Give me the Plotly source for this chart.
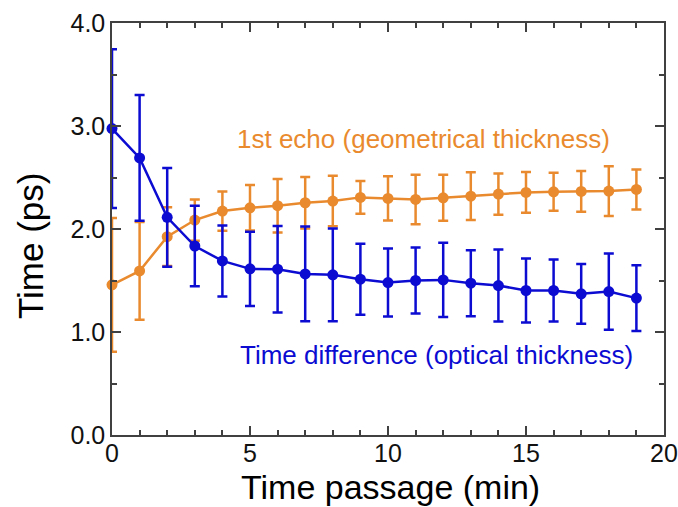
import plotly.graph_objects as go

time_min = list(range(20))

echo_vals = [1.458, 1.593, 1.925, 2.087, 2.174, 2.206, 2.226, 2.255, 2.271, 2.307,
             2.297, 2.287, 2.303, 2.319, 2.339, 2.355, 2.361, 2.365, 2.368, 2.384]
echo_err = [0.65, 0.475, 0.285, 0.20, 0.19, 0.22, 0.26, 0.25, 0.245, 0.16,
            0.215, 0.24, 0.223, 0.231, 0.20, 0.198, 0.184, 0.198, 0.242, 0.194]

diff_vals = [2.975, 2.690, 2.113, 1.835, 1.690, 1.613, 1.610, 1.564, 1.555, 1.513,
             1.480, 1.500, 1.506, 1.474, 1.451, 1.403, 1.403, 1.371, 1.393, 1.329]
diff_err = [0.77, 0.61, 0.48, 0.39, 0.345, 0.36, 0.42, 0.46, 0.45, 0.345,
            0.33, 0.32, 0.36, 0.32, 0.35, 0.31, 0.30, 0.29, 0.37, 0.32]

x_title = "Time passage (min)"
y_title = "Time (ps)"
echo_label = "1st echo (geometrical thickness)"
diff_label = "Time difference (optical thickness)"

ORANGE = "#E98A2E"
BLUE = "#0B0BD2"
AXIS = "#404040"
FONT = "Liberation Sans, Arial, sans-serif"

fig = go.Figure()

fig.add_trace(go.Scatter(
    x=time_min, y=echo_vals, mode="lines+markers",
    line=dict(color=ORANGE, width=2.5),
    marker=dict(color=ORANGE, size=11),
    error_y=dict(type="data", array=echo_err, visible=True, color=ORANGE,
                 thickness=2.5, width=5),
    cliponaxis=False, showlegend=False,
))

fig.add_trace(go.Scatter(
    x=time_min, y=diff_vals, mode="lines+markers",
    line=dict(color=BLUE, width=2.5),
    marker=dict(color=BLUE, size=11),
    error_y=dict(type="data", array=diff_err, visible=True, color=BLUE,
                 thickness=2.5, width=5),
    cliponaxis=False, showlegend=False,
))

fig.add_annotation(x=11.27, y=2.87, xref="x", yref="y",
                   text=echo_label, showarrow=False,
                   font=dict(family=FONT, size=26, color=ORANGE))
fig.add_annotation(x=11.75, y=0.78, xref="x", yref="y",
                   text=diff_label, showarrow=False,
                   font=dict(family=FONT, size=26, color=BLUE))

# axis titles as annotations (paper coords)
fig.add_annotation(x=0.5054, y=-0.126, xref="paper", yref="paper",
                   text=x_title, showarrow=False, xanchor="center", yanchor="middle",
                   font=dict(family=FONT, size=34, color="#000000"))
fig.add_annotation(x=-0.1486, y=0.4587, xref="paper", yref="paper",
                   text=y_title, showarrow=False, textangle=-90,
                   xanchor="center", yanchor="middle",
                   font=dict(family=FONT, size=35, color="#000000"))

axis_common = dict(
    showline=True, linecolor=AXIS, linewidth=1.5, mirror="ticks",
    ticks="inside", ticklen=9, tickwidth=1.5, tickcolor=AXIS,
    showgrid=False, zeroline=False, automargin=False,
    tickfont=dict(family=FONT, size=25, color="#111111"),
)

fig.update_xaxes(
    range=[0, 20], tick0=0, dtick=5, ticklabelstandoff=-5,
    minor=dict(ticks="inside", ticklen=5, dtick=1, tickwidth=1.5, tickcolor=AXIS, showgrid=False),
    **axis_common,
)
fig.update_yaxes(
    range=[0, 4], tick0=0, dtick=1, tickformat=".1f",
    minor=dict(ticks="inside", ticklen=5, dtick=0.5, tickwidth=1.5, tickcolor=AXIS, showgrid=False),
    **axis_common,
)

fig.update_layout(
    width=678, height=507,
    margin=dict(l=112, r=14, t=23, b=72),
    plot_bgcolor="white", paper_bgcolor="white",
)

fig.write_html(
    "out.html",
    config={"displayModeBar": False},
    post_script="document.body.style.margin='0';document.body.style.overflow='hidden';",
)
